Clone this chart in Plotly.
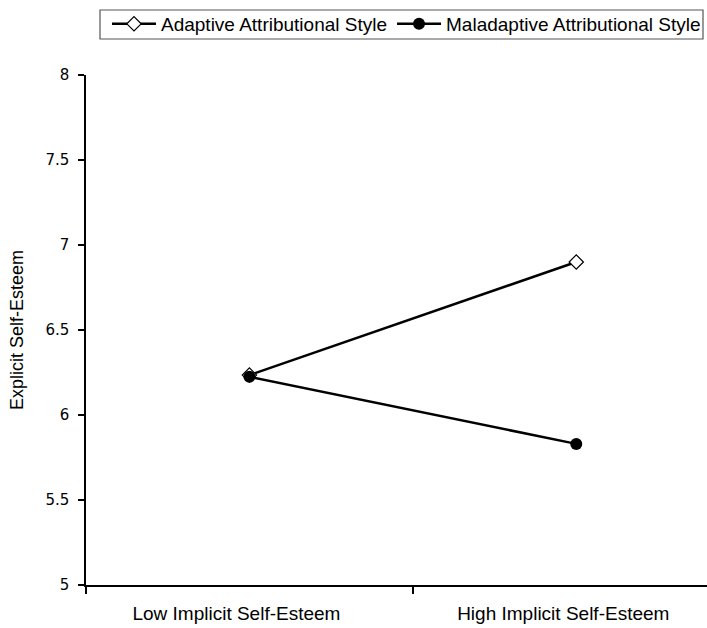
import plotly.graph_objects as go

categories = ["Low Implicit Self-Esteem", "High Implicit Self-Esteem"]
adaptive = [6.235, 6.90]
maladaptive = [6.225, 5.83]
y_ticks = [5, 5.5, 6, 6.5, 7, 7.5, 8]
y_ticktext = ["5", "5.5", "6", "6.5", "7", "7.5", "8"]

fig = go.Figure()
fig.add_trace(go.Scatter(
    x=categories, y=adaptive, name="Adaptive Attributional Style",
    mode="lines+markers",
    line=dict(color="black", width=2.5),
    marker=dict(symbol="diamond", size=11, color="white", line=dict(color="black", width=1.2)),
))
fig.add_trace(go.Scatter(
    x=categories, y=maladaptive, name="Maladaptive Attributional Style",
    mode="lines+markers",
    line=dict(color="black", width=2.5),
    marker=dict(symbol="circle", size=12, color="black"),
))

# legend frame (pixel box 100..703 x 10..39 converted to paper coords)
PLOT_L, PLOT_W, AXIS_B, PLOT_H = 86, 621, 585, 510
fig.add_shape(
    type="rect", xref="paper", yref="paper",
    x0=(100 - PLOT_L) / PLOT_W, x1=(703 - PLOT_L) / PLOT_W,
    y0=(AXIS_B - 39) / PLOT_H, y1=(AXIS_B - 10) / PLOT_H,
    line=dict(color="#555", width=1.2), fillcolor="rgba(0,0,0,0)", layer="above",
)

fig.update_layout(
    width=707, height=628,
    margin=dict(l=86, r=0, t=75, b=43, pad=0),
    paper_bgcolor="white", plot_bgcolor="white",
    font=dict(family="Liberation Sans, Arial", color="black", size=19),
    showlegend=True,
    legend=dict(
        orientation="h", x=(107 - PLOT_L) / PLOT_W, y=(AXIS_B - 24) / PLOT_H,
        xanchor="left", yanchor="middle",
        borderwidth=0, bgcolor="rgba(0,0,0,0)", font=dict(size=19, color="black"),
        itemwidth=44, tracegroupgap=0,
    ),
    xaxis=dict(
        type="category", range=[-0.5, 1.40], tickson="boundaries",
        showline=True, linecolor="black", linewidth=1.5,
        ticks="outside", ticklen=7, tickcolor="black", tickwidth=1.5,
        showgrid=False, zeroline=False, ticklabelstandoff=10, ticklabelshift=-13,
        tickfont=dict(family="Liberation Sans, Arial", size=19),
    ),
    yaxis=dict(
        range=[5, 8], tickvals=y_ticks, ticktext=y_ticktext,
        showline=True, linecolor="black", linewidth=1.5,
        ticks="outside", ticklen=6, tickcolor="black", tickwidth=1.5,
        showgrid=False, zeroline=False, ticklabelstandoff=6,
        tickfont=dict(family="DejaVu Sans, Verdana", size=15),
        title=dict(text="Explicit Self-Esteem", font=dict(family="Liberation Sans, Arial", size=18), standoff=17),
    ),
)

fig.write_html("out.html")
